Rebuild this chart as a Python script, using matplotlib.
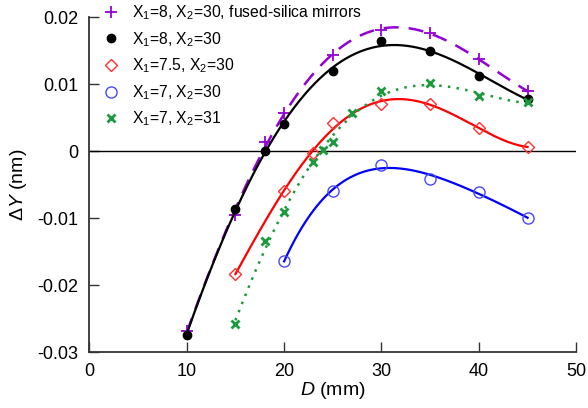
import numpy as np
import matplotlib
matplotlib.use('Agg')
import matplotlib.pyplot as plt

plt.rcParams['font.family'] = ['Liberation Sans', 'DejaVu Sans']
plt.rcParams['mathtext.fontset'] = 'custom'
plt.rcParams['mathtext.rm'] = 'Liberation Sans'
plt.rcParams['mathtext.it'] = 'Liberation Sans:italic'

# data (D in mm, dY in nm)
d_fs = [10, 15, 18, 20, 25, 30, 35, 40, 45]
y_fs = [-0.0269, -0.0095, 0.0013, 0.0057, 0.0143, 0.0181, 0.0176, 0.0138, 0.0089]

d_8 = [10, 15, 18, 20, 25, 30, 35, 40, 45]
y_8 = [-0.0274, -0.0086, 0.0000, 0.0040, 0.0119, 0.0164, 0.0150, 0.0112, 0.0078]

d_75 = [15, 20, 23, 25, 30, 35, 40, 45]
y_75 = [-0.0183, -0.0060, -0.0003, 0.0042, 0.0070, 0.0070, 0.0035, 0.0006]

d_7 = [20, 25, 30, 35, 40, 45]
y_7 = [-0.0164, -0.0060, -0.0020, -0.0041, -0.0061, -0.0100]

d_731 = [15, 18, 20, 23, 24, 25, 27, 30, 35, 40, 45]
y_731 = [-0.0258, -0.0134, -0.0091, -0.0016, 0.0001, 0.0014, 0.0057, 0.0089, 0.0101, 0.0082, 0.0073]

labels = ['X$_1$=8, X$_2$=30, fused-silica mirrors',
          'X$_1$=8, X$_2$=30',
          'X$_1$=7.5, X$_2$=30',
          'X$_1$=7, X$_2$=30',
          'X$_1$=7, X$_2$=31']


def fit_curve(x, y, deg=4):
    c = np.polyfit(x, y, deg)
    xs = np.linspace(min(x), max(x), 200)
    return xs, np.polyval(c, xs)


fig = plt.figure(figsize=(5.88, 4.08), dpi=100)
ax = fig.add_axes([0.152, 0.137, 0.828, 0.821])

ax.axhline(0, color='black', lw=1)

series = [
    (d_fs, y_fs, '#9400D3', (0, (6, 4)), dict(marker='+', ms=8, mew=1.3, color='#9400D3', ls='none')),
    (d_8, y_8, 'black', '-', dict(marker='o', ms=6, color='black', ls='none')),
    (d_75, y_75, '#FF0000', '-', dict(marker='D', ms=6, mfc='none', mec='#FF3030', mew=1, ls='none')),
    (d_7, y_7, '#0000FF', '-', dict(marker='o', ms=8, mfc='none', mec='#4848FF', mew=1, ls='none')),
    (d_731, y_731, '#1A9A3A', (0, (1, 2.5)), dict(marker='x', ms=6, mew=2, color='#1A9A3A', ls='none')),
]

for (x, y, c, ls, mk), lab in zip(series, labels):
    xs, ys = fit_curve(x, y)
    ax.plot(xs, ys, color=c, ls=ls, lw=1.8 if ls != '-' else 1.6)
    ax.plot(x, y, label=lab, **mk)

ax.set_xlim(0, 50)
ax.set_ylim(-0.03, 0.02)
ax.set_xticks([0, 10, 20, 30, 40, 50])
ax.set_yticks([-0.03, -0.02, -0.01, 0, 0.01, 0.02])
ax.set_yticklabels(['-0.03', '-0.02', '-0.01', '0', '0.01', '0.02'])
ax.tick_params(direction='in', length=7, width=1, labelsize=13, colors='#333333', labelcolor='black', pad=8)
for s in ['top', 'right']:
    ax.spines[s].set_visible(False)
for s in ['left', 'bottom']:
    ax.spines[s].set_color('#333333')
    ax.spines[s].set_linewidth(1.3)

ax.set_xlabel('$D$ (mm)', fontsize=14, labelpad=0)
ax.set_ylabel('$\\Delta Y$ (nm)', fontsize=14, labelpad=6)

ax.legend(loc='upper left', bbox_to_anchor=(0.0, 1.069), frameon=False, fontsize=11.3,
          handletextpad=0.6, labelspacing=0.5, borderaxespad=0.2, handlelength=1.5)

fig.savefig('out.png', dpi=100)
